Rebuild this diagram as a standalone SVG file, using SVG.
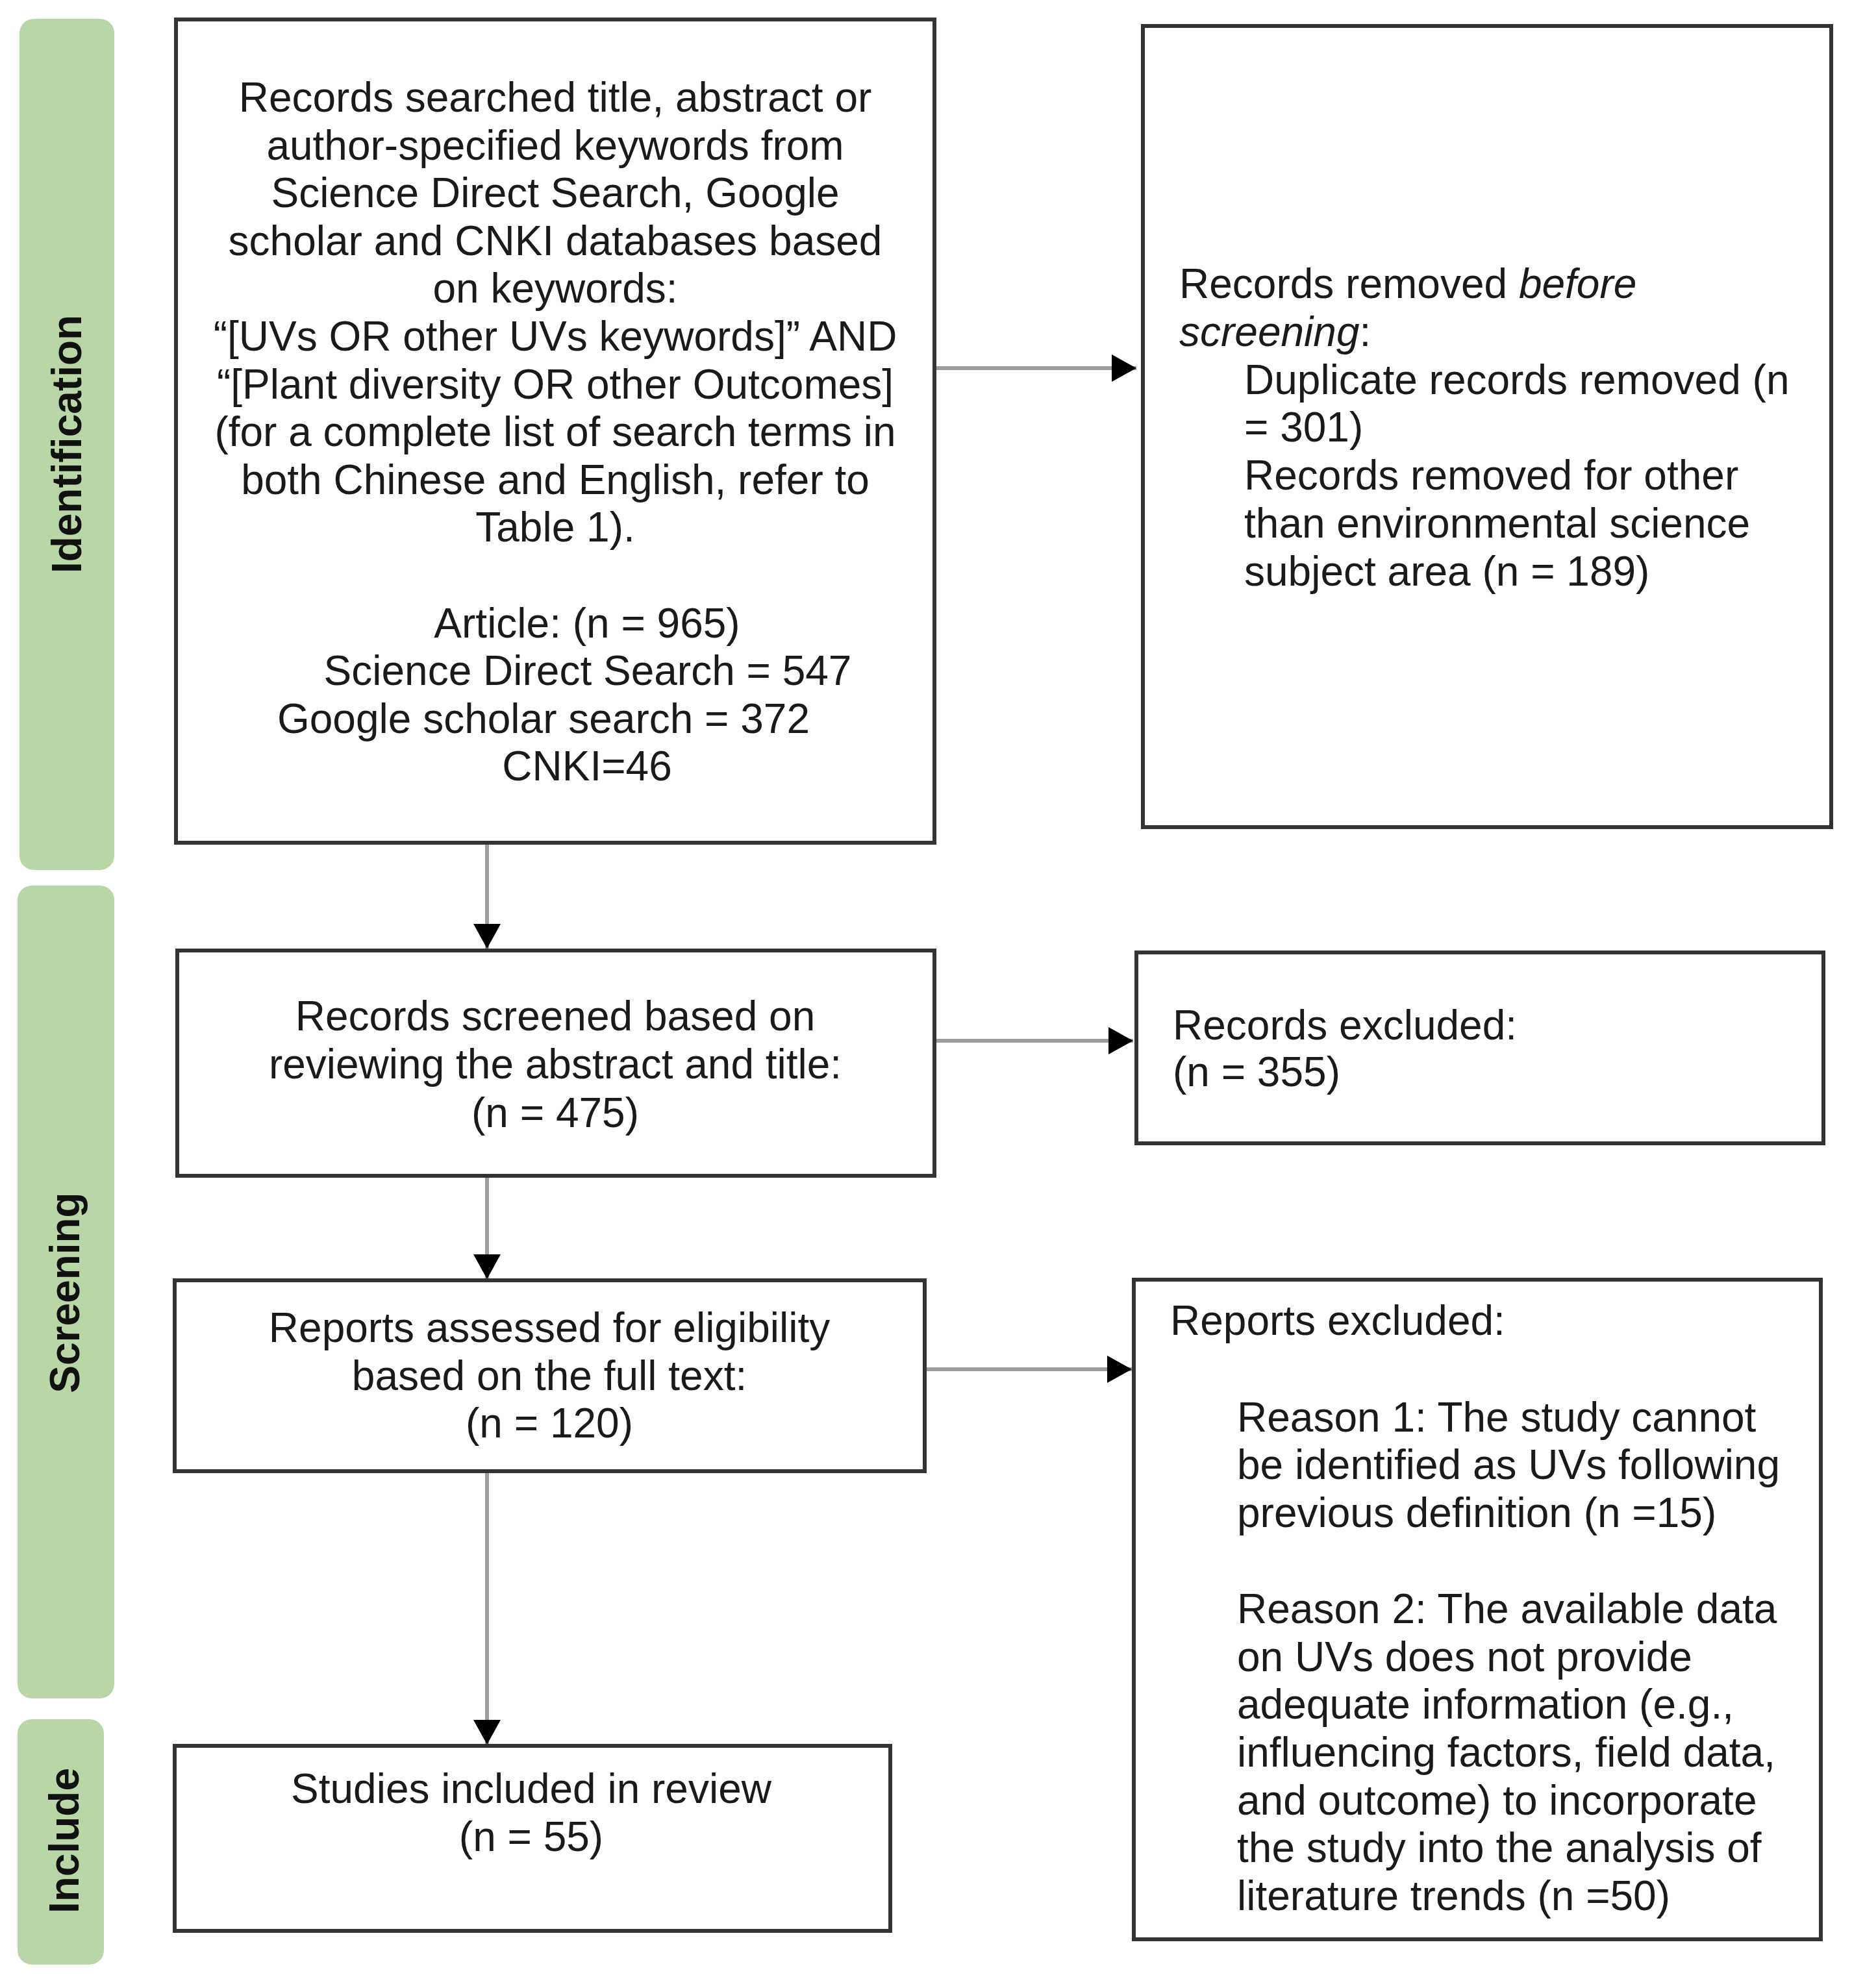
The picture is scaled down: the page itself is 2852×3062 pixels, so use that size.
<svg xmlns="http://www.w3.org/2000/svg" width="2852" height="3062" viewBox="0 0 2852 3062">
<defs>
<style>
.bar{fill:#b8d6a6;}
.box{fill:#ffffff;stroke:#333333;stroke-width:6;}
.t{font-family:"Liberation Sans",Arial,sans-serif;font-size:64px;fill:#1a1a1a;}
.c{text-anchor:middle;}
.lab{font-family:"Liberation Sans",Arial,sans-serif;font-size:64px;font-weight:bold;fill:#111111;text-anchor:middle;}
.conn{stroke:#9e9e9e;stroke-width:6;fill:none;marker-end:url(#ah);}
.i{font-style:italic;}
</style>
<marker id="ah" markerUnits="userSpaceOnUse" markerWidth="40" markerHeight="44" refX="38" refY="22" orient="auto">
<path d="M0,1 L38,22 L0,43 z" fill="#000000"/>
</marker>
</defs>
<rect width="2852" height="3062" fill="#ffffff"/>

<g id="phase-identification">
<rect class="bar" x="30" y="29" width="146" height="1311" rx="22"/>
<text class="lab" transform="translate(125,684) rotate(-90)">Identification</text>
</g>
<g id="phase-screening">
<rect class="bar" x="27" y="1364" width="149" height="1252" rx="22"/>
<text class="lab" transform="translate(122,1991) rotate(-90)">Screening</text>
</g>
<g id="phase-include">
<rect class="bar" x="27" y="2648" width="133" height="378" rx="22"/>
<text class="lab" transform="translate(121,2835) rotate(-90)">Include</text>
</g>

<g id="connectors">
<line class="conn" x1="1441" y1="567" x2="1750" y2="567"/>
<line class="conn" x1="1440" y1="1603" x2="1745" y2="1603"/>
<line class="conn" x1="1425" y1="2109" x2="1743" y2="2109"/>
<line class="conn" x1="750" y1="1298" x2="750" y2="1461"/>
<line class="conn" x1="750" y1="1811" x2="750" y2="1970"/>
<line class="conn" x1="750" y1="2266" x2="750" y2="2687"/>
</g>

<g id="records-searched">
<rect class="box" x="271" y="30" width="1168" height="1268"/>
<text class="t c" x="855" y="172">Records searched title, abstract or</text>
<text class="t c" x="855" y="246">author-specified keywords from</text>
<text class="t c" x="855" y="319">Science Direct Search, Google</text>
<text class="t c" x="855" y="393">scholar and CNKI databases based</text>
<text class="t c" x="855" y="466">on keywords:</text>
<text class="t c" x="855" y="540">“[UVs OR other UVs keywords]” AND</text>
<text class="t c" x="855" y="614">“[Plant diversity OR other Outcomes]</text>
<text class="t c" x="855" y="687">(for a complete list of search terms in</text>
<text class="t c" x="855" y="761">both Chinese and English, refer to</text>
<text class="t c" x="855" y="834">Table 1).</text>
<text class="t c" x="904" y="982">Article: (n = 965)</text>
<text class="t c" x="905" y="1055">Science Direct Search = 547</text>
<text class="t c" x="837" y="1129">Google scholar search = 372</text>
<text class="t c" x="904" y="1202">CNKI=46</text>
</g>

<g id="records-removed">
<rect class="box" x="1760" y="40" width="1060" height="1234"/>
<text class="t" x="1816" y="459">Records removed <tspan class="i">before</tspan></text>
<text class="t" x="1816" y="533"><tspan class="i">screening</tspan>:</text>
<text class="t" x="1916" y="607">Duplicate records removed (n</text>
<text class="t" x="1916" y="680">= 301)</text>
<text class="t" x="1916" y="754">Records removed for other</text>
<text class="t" x="1916" y="828">than environmental science</text>
<text class="t" x="1916" y="902">subject area (n = 189)</text>
</g>

<g id="records-screened">
<rect class="box" x="273" y="1464" width="1166" height="347"/>
<text class="t c" x="855" y="1587">Records screened based on</text>
<text class="t c" x="855" y="1661">reviewing the abstract and title:</text>
<text class="t c" x="855" y="1736">(n = 475)</text>
</g>

<g id="records-excluded">
<rect class="box" x="1750" y="1467" width="1058" height="294"/>
<text class="t" x="1806" y="1601">Records excluded:</text>
<text class="t" x="1806" y="1673">(n = 355)</text>
</g>

<g id="reports-assessed">
<rect class="box" x="269" y="1972" width="1155" height="294"/>
<text class="t c" x="846" y="2067">Reports assessed for eligibility</text>
<text class="t c" x="846" y="2141">based on the full text:</text>
<text class="t c" x="846" y="2214">(n = 120)</text>
</g>

<g id="reports-excluded">
<rect class="box" x="1746" y="1971" width="1058" height="1016"/>
<text class="t" x="1802" y="2056">Reports excluded:</text>
<text class="t" x="1905" y="2205">Reason 1: The study cannot</text>
<text class="t" x="1905" y="2278">be identified as UVs following</text>
<text class="t" x="1905" y="2352">previous definition (n =15)</text>
<text class="t" x="1905" y="2500">Reason 2: The available data</text>
<text class="t" x="1905" y="2574">on UVs does not provide</text>
<text class="t" x="1905" y="2647">adequate information (e.g.,</text>
<text class="t" x="1905" y="2721">influencing factors, field data,</text>
<text class="t" x="1905" y="2795">and outcome) to incorporate</text>
<text class="t" x="1905" y="2868">the study into the analysis of</text>
<text class="t" x="1905" y="2942">literature trends (n =50)</text>
</g>

<g id="studies-included">
<rect class="box" x="269" y="2689" width="1102" height="285"/>
<text class="t c" x="818" y="2777">Studies included in review</text>
<text class="t c" x="818" y="2851">(n = 55)</text>
</g>
</svg>
